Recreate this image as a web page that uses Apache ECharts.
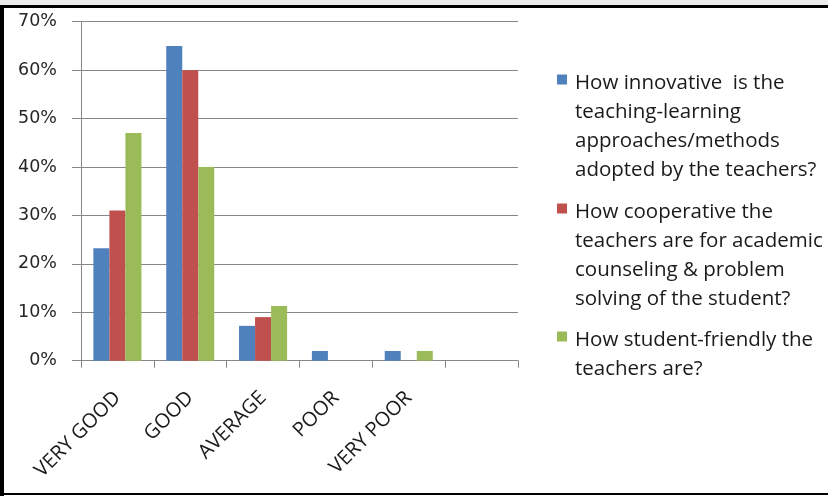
<!DOCTYPE html>
<html>
<head>
<meta charset="utf-8">
<script src="https://cdn.jsdelivr.net/npm/echarts@6/dist/echarts.min.js"></script>
<style>
  html, body { margin: 0; padding: 0; background: #fff; }
  #wrap { position: relative; width: 828px; height: 496px; overflow: hidden; background: #fff; }
  .b { position: absolute; background: #000; }
  #chart { position: absolute; left: 0; top: 0; width: 828px; height: 496px; }
</style>
</head>
<body>
<div id="wrap">
  <div class="b" style="left:0;top:0;width:828px;height:5px;background:#ececec"></div>
  <div class="b" style="left:0;top:5px;width:828px;height:3px"></div>
  <div class="b" style="left:0;top:5px;width:4px;height:491px"></div>
  <div class="b" style="left:0;top:493px;width:828px;height:2px"></div>
  <div id="chart"></div>
</div>
<script>
const categories = ['VERY GOOD', 'GOOD', 'AVERAGE', 'POOR', 'VERY POOR', ''];
const seriesNames = [
  'How innovative  is the\nteaching-learning\napproaches/methods\nadopted by the teachers?',
  'How cooperative the\nteachers are for academic\ncounseling & problem\nsolving of the student?',
  'How student-friendly the\nteachers are?'
];
const innovative = [23.2, 65, 7.2, 2, 2, null];
const cooperative = [31, 60, 9, 0, 0, null];
const studentFriendly = [47, 40, 11.3, 0, 2, null];
const yTicks = [0, 10, 20, 30, 40, 50, 60, 70];

const colors = ['#4F81BD', '#C0504D', '#9BBB59'];
const LH = 28.8;
const ICON_W = 13;
function iconFor(lines) {
  const h = lines * LH;
  return 'path://M0,5.5L10,5.5L10,15.5L0,15.5Z M0,0 M' + ICON_W + ',' + h.toFixed(1);
}
function legendFor(i, top) {
  const lines = seriesNames[i].split('\n').length;
  return {
    data: [seriesNames[i]],
    left: 557,
    top: top,
    padding: 0,
    orient: 'vertical',
    itemWidth: ICON_W,
    itemHeight: lines * LH,
    icon: iconFor(lines),
    selectedMode: false,
    textStyle: {
      fontFamily: 'Open Sans',
      fontSize: 20.5,
      lineHeight: LH,
      color: '#1a1a1a'
    }
  };
}

const chart = echarts.init(document.getElementById('chart'), null, { renderer: 'canvas' });
const gray = '#878787';
chart.setOption({
  animation: false,
  color: colors,
  grid: { left: 81, right: 310, top: 21.7, bottom: 135.3, containLabel: false },
  legend: [legendFor(0, 69), legendFor(1, 198), legendFor(2, 326)],
  xAxis: {
    type: 'category',
    data: categories,
    boundaryGap: true,
    axisLine: { show: true, lineStyle: { color: gray, width: 1 } },
    axisTick: { show: true, length: 7, lineStyle: { color: gray } },
    axisLabel: {
      interval: 0,
      rotate: 45,
      margin: 34,
      fontFamily: 'Open Sans',
      fontSize: 20,
      color: '#1a1a1a'
    },
    splitLine: { show: false }
  },
  yAxis: {
    type: 'value',
    min: yTicks[0],
    max: yTicks[yTicks.length - 1],
    interval: 10,
    axisLine: { show: true, lineStyle: { color: gray, width: 1 } },
    axisTick: { show: true, length: 9, lineStyle: { color: gray } },
    axisLabel: {
      margin: 24,
      fontFamily: 'DejaVu Sans',
      fontSize: 17.5,
      color: '#262626',
      formatter: v => v + '%'
    },
    splitLine: { show: true, lineStyle: { color: gray, width: 1 } }
  },
  series: [
    { name: seriesNames[0], type: 'bar', data: innovative, barGap: '0%', barCategoryGap: '34%' },
    { name: seriesNames[1], type: 'bar', data: cooperative, barGap: '0%', barCategoryGap: '34%' },
    { name: seriesNames[2], type: 'bar', data: studentFriendly, barGap: '0%', barCategoryGap: '34%' }
  ]
});
</script>
</body>
</html>
